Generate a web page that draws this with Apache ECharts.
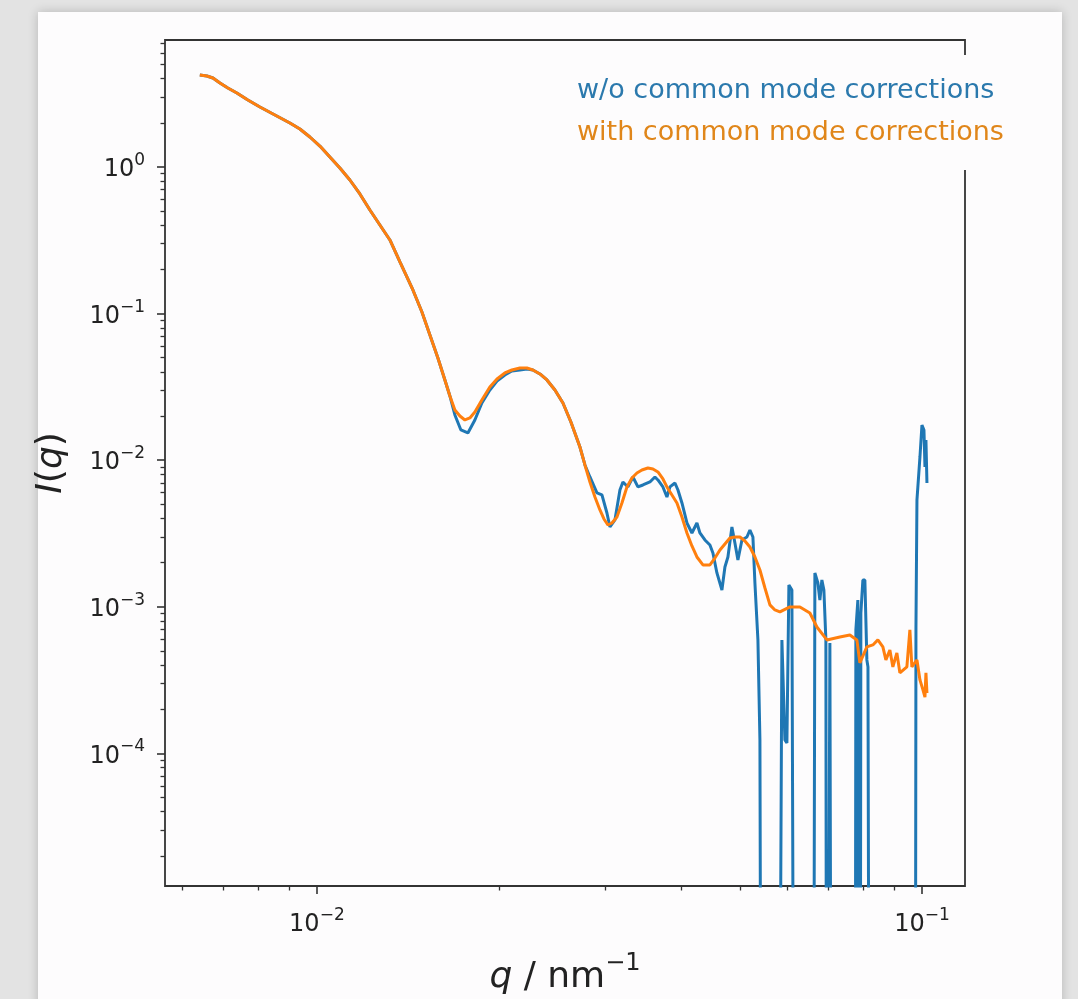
<!DOCTYPE html>
<html>
<head>
<meta charset="utf-8">
<script src="https://cdn.jsdelivr.net/npm/echarts@6/dist/echarts.min.js"></script>
<style>
  html, body { margin: 0; padding: 0; width: 1078px; height: 999px; overflow: hidden; background: #e3e3e3; }
  #sheet { position: absolute; left: 38px; top: 12px; width: 1024px; height: 1000px; background: #fdfcfd; box-shadow: 0 0 10px rgba(0,0,0,0.2); }
  #chart { position: absolute; left: 0; top: 0; width: 1078px; height: 999px; }
</style>
</head>
<body>
<div id="sheet"></div>
<div id="chart"></div>
<script>
// Scattering curves I(q), log-log.
const LABEL_RAW = 'w/o common mode corrections';
const LABEL_CORR = 'with common mode corrections';

// Axis ranges
const Q_MIN = 0.00561, Q_MAX = 0.1178;
const I_MIN = 1.245e-5, I_MAX = 7.35;

// Tick positions (decades labelled, the rest are minor ticks)
const xMajorTicks = [0.01, 0.1];
const xMinorTicks = [0.006, 0.007, 0.008, 0.009, 0.02, 0.03, 0.04, 0.05, 0.06, 0.07, 0.08, 0.09];
const yMajorTicks = [1e-4, 1e-3, 1e-2, 1e-1, 1];
const yMinorTicks = [2e-5, 3e-5, 4e-5, 5e-5, 6e-5, 7e-5, 8e-5, 9e-5,
  2e-4, 3e-4, 4e-4, 5e-4, 6e-4, 7e-4, 8e-4, 9e-4,
  2e-3, 3e-3, 4e-3, 5e-3, 6e-3, 7e-3, 8e-3, 9e-3,
  0.02, 0.03, 0.04, 0.05, 0.06, 0.07, 0.08, 0.09,
  0.2, 0.3, 0.4, 0.5, 0.6, 0.7, 0.8, 0.9,
  2, 3, 4, 5, 6, 7];

// Low-q part, identical for both treatments
const qShared = [0.006405, 0.006580, 0.006733, 0.006915, 0.007126, 0.007375, 0.007690, 0.008052,
  0.008523, 0.009024, 0.009374, 0.009737, 0.010115, 0.010507, 0.010915, 0.011338,
  0.011778, 0.012235, 0.012710, 0.013203, 0.013716, 0.014411, 0.014914, 0.015374,
  0.015849, 0.016276, 0.016589];
const iShared = [4.242, 4.176, 4.047, 3.741, 3.458, 3.198, 2.864, 2.566,
  2.263, 1.996, 1.816, 1.602, 1.390, 1.170, 0.9844, 0.8152,
  0.6546, 0.5088, 0.4021, 0.3177, 0.2249, 0.1449, 0.1025, 0.07145,
  0.04980, 0.03524, 0.02741];

// With common mode corrections
const qCorr = [0.016907, 0.017233, 0.017563, 0.017900, 0.018243, 0.018736, 0.019314, 0.019846,
  0.020448, 0.021003, 0.021651, 0.022237, 0.022751, 0.023369, 0.024000, 0.024741,
  0.025507, 0.026292, 0.027210, 0.027733, 0.028266, 0.028809, 0.029363, 0.029814,
  0.030270, 0.030733, 0.031325, 0.031926, 0.032539, 0.033164, 0.033801, 0.034451,
  0.035246, 0.035923, 0.036614, 0.037318, 0.037889, 0.038619, 0.039362, 0.040118,
  0.040887, 0.041671, 0.042470, 0.043451, 0.044625, 0.045481, 0.046356, 0.047246,
  0.048152, 0.049077, 0.050021, 0.050983, 0.051962, 0.052959, 0.053977, 0.055022,
  0.056069, 0.057143, 0.058241, 0.060499, 0.062846, 0.065282, 0.067044, 0.069647,
  0.073172, 0.076009, 0.078062, 0.078958, 0.081090, 0.082963, 0.084555, 0.086181,
  0.087172, 0.088509, 0.089524, 0.090899, 0.091943, 0.094425, 0.095508, 0.096236,
  0.098116, 0.099241, 0.10038, 0.10115, 0.10153, 0.10192];
const iCorr = [0.02200, 0.02002, 0.01880, 0.01941, 0.02132, 0.02574, 0.03157, 0.03580,
  0.03934, 0.04122, 0.04254, 0.04254, 0.04122, 0.03873, 0.03524, 0.03012,
  0.02456, 0.01822, 0.01230, 0.009275, 0.007102, 0.005610, 0.004574, 0.003971,
  0.003614, 0.003729, 0.004098, 0.005105, 0.006568, 0.007561, 0.008178, 0.008575,
  0.008847, 0.008710, 0.008308, 0.007442, 0.006568, 0.005790, 0.005105, 0.004098,
  0.003187, 0.002598, 0.002186, 0.001928, 0.001928, 0.002151, 0.002440, 0.002682,
  0.002945, 0.002993, 0.002993, 0.002810, 0.002557, 0.002186, 0.001782, 0.001343,
  0.00103, 0.000951, 0.000922, 0.000997, 0.000997, 0.000907, 0.000728, 0.000594,
  0.000622, 0.000642, 0.000594, 0.000414, 0.000532, 0.000549, 0.000594, 0.000532,
  0.000434, 0.000507, 0.000389, 0.000484, 0.000354, 0.000389, 0.000695, 0.000389,
  0.000434, 0.000317, 0.000271, 0.000242, 0.000354, 0.000258];

// Without corrections; non-positive intensities are stored as 1e-9 (clipped below the axis)
const qRaw = [0.016907, 0.017299, 0.017765, 0.018243, 0.018736, 0.019314, 0.019846, 0.020448,
  0.021003, 0.021651, 0.022237, 0.022751, 0.023369, 0.024000, 0.024741, 0.025507,
  0.026292, 0.027210, 0.027733, 0.028266, 0.029030, 0.029588, 0.030155, 0.030502,
  0.031087, 0.031684, 0.032048, 0.032663, 0.033291, 0.033930, 0.034582, 0.035514,
  0.036198, 0.036614, 0.037318, 0.037889, 0.038326, 0.039064, 0.039512, 0.040118,
  0.040887, 0.041671, 0.042470, 0.042958, 0.043782, 0.044625, 0.045137, 0.045829,
  0.046709, 0.047246, 0.047788, 0.048520, 0.049077, 0.049641, 0.050404, 0.051372,
  0.051962, 0.052557, 0.052959, 0.053568, 0.053977, 0.054390,
  0.057799, 0.058687, 0.059359, 0.059813, 0.060269, 0.060960, 0.061661,
  0.066030, 0.066534, 0.067299, 0.067812, 0.068330, 0.068853, 0.069378, 0.069647,
  0.070176, 0.070443, 0.070981,
  0.077470, 0.077764, 0.078358, 0.078958, 0.079258, 0.079864, 0.080475, 0.081090,
  0.081427, 0.082050,
  0.097372, 0.097743, 0.098116, 0.099241, 0.100000, 0.100765, 0.10115, 0.10153, 0.10192];
const iRaw = [0.02034, 0.01607, 0.01533, 0.0188, 0.02456, 0.03012, 0.03469, 0.03814,
  0.04058, 0.04122, 0.04189, 0.04122, 0.03873, 0.03524, 0.03012, 0.02456,
  0.01822, 0.01230, 0.009275, 0.007683, 0.005974, 0.005790, 0.004362, 0.003501,
  0.003909, 0.006262, 0.007102, 0.006568, 0.007683, 0.006568, 0.006773, 0.007102,
  0.007683, 0.007329, 0.006568, 0.005610, 0.006568, 0.006989, 0.006262, 0.005105,
  0.003729, 0.003187, 0.003729, 0.003187, 0.002855, 0.002640, 0.002328, 0.001701,
  0.001302, 0.001869, 0.002186, 0.003501, 0.002724, 0.002086, 0.002855, 0.002993,
  0.003341, 0.002993, 0.001453, 0.000594, 0.0001234, 1e-9,
  1e-9, 0.000594, 0.0001234, 0.0001177, 0.001408, 0.001302, 1e-9,
  1e-9, 0.001701, 0.001453, 0.001112, 0.001523, 0.001302, 0.000594, 1e-9,
  1e-9, 0.000566, 1e-9,
  1e-9, 0.000695, 0.001112, 1e-9, 0.000907, 0.001523, 0.001523, 0.000434,
  0.000389, 1e-9,
  1e-9, 0.000728, 0.005355, 0.010515, 0.017381, 0.016069, 0.008987, 0.013733, 0.006989];

function pairs(qs, is) { return qs.map((q, k) => [q, is[k]]); }
const corrData = pairs(qShared.concat(qCorr), iShared.concat(iCorr));
const rawData = pairs(qShared.concat(qRaw), iShared.concat(iRaw));

const FONT = 'DejaVu Sans';
const INK = '#222';
const SPINE = '#333';

function decadeLabel(v) {
  const e = Math.round(Math.log10(v));
  return '{b|10}{s|' + (e < 0 ? '\u2212' + (-e) : String(e)) + '}';
}
const tickRich = {
  b: { fontFamily: FONT, fontSize: 24, color: INK, lineHeight: 30, verticalAlign: 'bottom' },
  s: { fontFamily: FONT, fontSize: 17, color: INK, lineHeight: 16, verticalAlign: 'top' }
};
const nameRich = {
  i: { fontFamily: FONT, fontSize: 36, fontStyle: 'italic', color: INK, lineHeight: 44, verticalAlign: 'bottom' },
  n: { fontFamily: FONT, fontSize: 36, color: INK, lineHeight: 44, verticalAlign: 'bottom' },
  s: { fontFamily: FONT, fontSize: 24, color: INK, lineHeight: 28, verticalAlign: 'top' }
};

function majorAxis(min, max, ticks, margin, extra) {
  return Object.assign({
    type: 'log', logBase: 10, min: min, max: max,
    axisLine: { show: false },
    splitLine: { show: false },
    minorTick: { show: false },
    axisTick: { show: true, inside: false, length: 8, customValues: ticks, lineStyle: { color: SPINE, width: 1.6 } },
    axisLabel: { show: true, customValues: ticks, margin: margin, formatter: decadeLabel, rich: tickRich }
  }, extra);
}
function minorAxis(min, max, ticks, extra) {
  return Object.assign({
    type: 'log', logBase: 10, min: min, max: max,
    axisLine: { show: false },
    splitLine: { show: false },
    axisTick: { show: true, inside: false, length: 4.5, customValues: ticks, lineStyle: { color: SPINE, width: 1.3 } },
    axisLabel: { show: false }
  }, extra);
}

const chart = echarts.init(document.getElementById('chart'), null, { renderer: 'canvas' });
chart.setOption({
  animation: false,
  backgroundColor: 'transparent',
  grid: {
    left: 165, top: 40, width: 800, height: 846,
    show: true, borderColor: SPINE, borderWidth: 1.8, backgroundColor: 'transparent',
    containLabel: false, outerBoundsMode: 'none'
  },
  xAxis: [
    majorAxis(Q_MIN, Q_MAX, xMajorTicks, 21, {
      position: 'bottom',
      name: '{i|q}{n| / nm}{s|\u22121}', nameLocation: 'middle', nameGap: 66,
      nameTextStyle: { rich: nameRich }
    }),
    minorAxis(Q_MIN, Q_MAX, xMinorTicks, { position: 'bottom' })
  ],
  yAxis: [
    majorAxis(I_MIN, I_MAX, yMajorTicks, 20, {
      position: 'left',
      name: '{i|I}{n|(}{i|q}{n|)}', nameLocation: 'middle', nameGap: 95, nameRotate: 90,
      nameTextStyle: { rich: nameRich }
    }),
    minorAxis(I_MIN, I_MAX, yMinorTicks, { position: 'left' })
  ],
  legend: {
    orient: 'vertical', left: 570, top: 55,
    icon: 'rect', itemWidth: 0, itemHeight: 0, itemGap: 10,
    selectedMode: false,
    backgroundColor: '#fdfcfd',
    padding: [20, 10, 21, 2],
    textStyle: { fontFamily: FONT, fontSize: 27, lineHeight: 32 },
    data: [
      { name: LABEL_RAW, textStyle: { color: '#2b79ad' } },
      { name: LABEL_CORR, textStyle: { color: '#e0861a' } }
    ]
  },
  series: [
    {
      name: LABEL_RAW, type: 'line', xAxisIndex: 0, yAxisIndex: 0, data: rawData,
      showSymbol: false, symbol: 'none', clip: true, z: 2,
      lineStyle: { color: '#1f77b4', width: 3 }, itemStyle: { color: '#1f77b4' }
    },
    {
      name: LABEL_CORR, type: 'line', xAxisIndex: 0, yAxisIndex: 0, data: corrData,
      showSymbol: false, symbol: 'none', clip: true, z: 3,
      lineStyle: { color: '#ff7f0e', width: 3 }, itemStyle: { color: '#ff7f0e' }
    }
  ]
});
</script>
</body>
</html>
